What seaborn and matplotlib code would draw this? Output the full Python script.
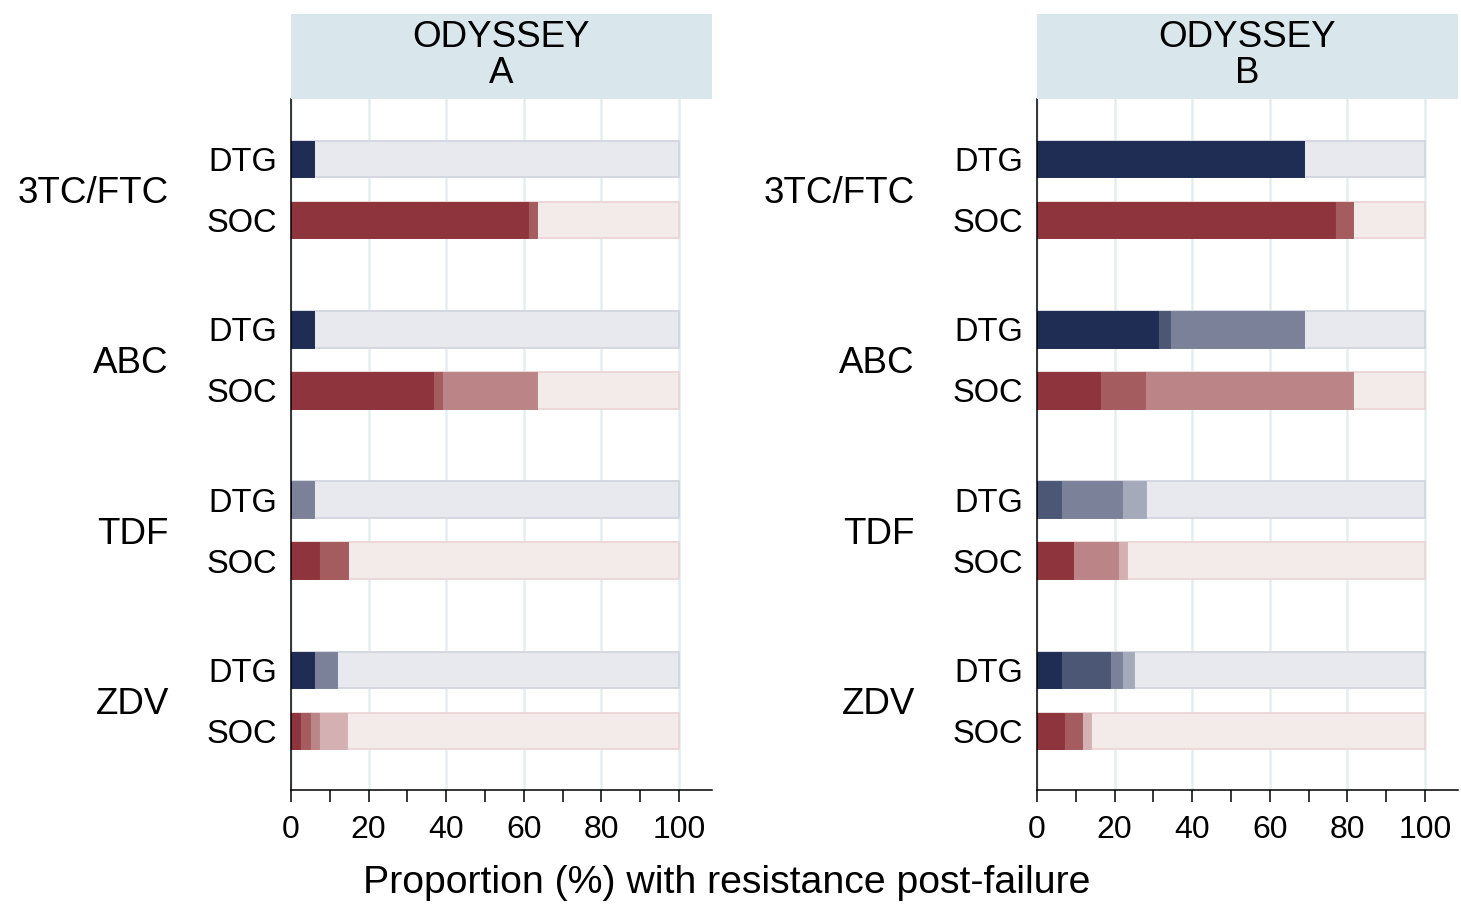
import numpy as np
import pandas as pd
import matplotlib
matplotlib.use("Agg")
import matplotlib.pyplot as plt
import matplotlib.colors as mcolors
from matplotlib import transforms
import seaborn as sns

# ---------------- data (percent of failures, by resistance level) ----------------
drugs = ["3TC/FTC", "ABC", "TDF", "ZDV"]
arms = ["DTG", "SOC"]
panels = ["A", "B"]
strip_titles = ["ODYSSEY\nA", "ODYSSEY\nB"]

a_dtg_high = [5.9, 5.9, 0.0, 5.9]
a_dtg_inter = [0.0, 0.0, 0.0, 0.0]
a_dtg_low = [0.0, 0.0, 5.9, 5.9]
a_dtg_plow = [0.0, 0.0, 0.0, 0.0]
a_soc_high = [61.0, 36.6, 7.3, 2.4]
a_soc_inter = [2.4, 2.4, 7.3, 2.4]
a_soc_low = [0.0, 24.4, 0.0, 2.4]
a_soc_plow = [0.0, 0.0, 0.0, 7.3]

b_dtg_high = [68.8, 31.3, 0.0, 6.3]
b_dtg_inter = [0.0, 3.1, 6.3, 12.5]
b_dtg_low = [0.0, 34.4, 15.6, 3.1]
b_dtg_plow = [0.0, 0.0, 6.3, 3.1]
b_soc_high = [76.7, 16.3, 9.3, 7.0]
b_soc_inter = [4.7, 11.6, 0.0, 4.7]
b_soc_low = [0.0, 53.5, 11.6, 0.0]
b_soc_plow = [0.0, 0.0, 2.3, 2.3]

x_ticks = [0, 20, 40, 60, 80, 100]
x_title = "Proportion (%) with resistance post-failure"

# ---------------- styling ----------------
navy = ["#1f2d54", "#4b5775", "#7a8199", "#a5aabb", "#e8e9ee"]
red = ["#8e343c", "#a45c5f", "#bb8486", "#d4b0b2", "#f3eaea"]
navy_edge = "#d3d6df"
red_edge = "#ebd5d7"
strip_col = "#d9e6ec"
grid_col = "#e4eef1"

sns.set_theme(style="white")
plt.rcParams["font.family"] = ["Liberation Sans", "DejaVu Sans"]
plt.rcParams["text.color"] = "black"
plt.rcParams["axes.labelcolor"] = "black"
plt.rcParams["xtick.color"] = "black"
plt.rcParams["ytick.color"] = "black"

series = {
    ("A", "DTG"): [a_dtg_high, a_dtg_inter, a_dtg_low, a_dtg_plow],
    ("A", "SOC"): [a_soc_high, a_soc_inter, a_soc_low, a_soc_plow],
    ("B", "DTG"): [b_dtg_high, b_dtg_inter, b_dtg_low, b_dtg_plow],
    ("B", "SOC"): [b_soc_high, b_soc_inter, b_soc_low, b_soc_plow],
}

group_gap = 170.3
row_gap = 61.0
rows = []
for (p, arm), lv in series.items():
    for i, d in enumerate(drugs):
        vals = [lv[k][i] for k in range(4)]
        cum = np.cumsum(vals)
        rows.append(dict(panel=p, arm=arm, drug=d,
                         pos=i * group_gap + arms.index(arm) * row_gap,
                         c1=cum[0], c2=cum[1], c3=cum[2], c4=cum[3], total=100.0))
df = pd.DataFrame(rows)

W, H = 1461, 908
fig = plt.figure(figsize=(W / 100, H / 100), dpi=100)

ax_left_px = [291, 1037]
ax_w_px = 421
ax_top_px, ax_bot_px = 99, 790
strip_top_px = 14

layers = [("total", 4), ("c4", 3), ("c3", 2), ("c2", 1), ("c1", 0)]
bar_frac = 36.5 / row_gap

for pi, p in enumerate(panels):
    ax = fig.add_axes([ax_left_px[pi] / W, (H - ax_bot_px) / H,
                       ax_w_px / W, (ax_bot_px - ax_top_px) / H])
    sub = df[df.panel == p]
    for col, k in layers:
        n0 = len(ax.patches)
        sns.barplot(data=sub, x=col, y="pos", hue="arm", hue_order=arms,
                    palette={"DTG": navy[k], "SOC": red[k]},
                    orient="y", native_scale=True, dodge=False,
                    width=bar_frac, legend=False, saturation=1,
                    errorbar=None, linewidth=0, ax=ax)
        for patch in ax.patches[n0:]:
            fc = mcolors.to_hex(patch.get_facecolor())
            if k == 4:
                patch.set_edgecolor(navy_edge if fc == navy[4] else red_edge)
                patch.set_linewidth(1.3)
            else:
                patch.set_edgecolor(fc)
                patch.set_linewidth(0.6)
                patch.set_zorder(2.2)
    ax.set_xlim(0, 108.5)
    ax.set_ylim(631, -60)

    # y labels
    yt = [i * group_gap + j * row_gap for i in range(len(drugs)) for j in range(2)]
    ax.set_yticks(yt)
    ax.set_yticklabels(arms * len(drugs))
    ax.tick_params(axis="y", length=0, pad=10, labelsize=23.5, labelcolor="black")

    # x axis
    ax.set_xticks(x_ticks)
    ax.set_xticklabels([str(t) for t in x_ticks])
    ax.set_xticks(np.arange(10, 100, 20), minor=True)
    ax.tick_params(axis="x", which="both", bottom=True, direction="out",
                   length=8.6, width=1.1, color="black", labelsize=23,
                   labelcolor="black", pad=9.5)
    ax.set_xlabel("")
    ax.set_ylabel("")

    ax.grid(axis="x", color=grid_col, linewidth=1.8)
    ax.grid(axis="y", visible=False)
    ax.set_axisbelow(True)
    for s in ["top", "right"]:
        ax.spines[s].set_visible(False)
    for s in ["left", "bottom"]:
        ax.spines[s].set_color("black")
        ax.spines[s].set_linewidth(1.1)
        ax.spines[s].set_zorder(3)

    # group labels
    tr = transforms.blended_transform_factory(ax.transAxes, ax.transData)
    for i, d in enumerate(drugs):
        ax.text(-122 / ax_w_px, i * group_gap + row_gap / 2 + 4, d, transform=tr,
                ha="right", va="center", fontsize=26.5, color="black")

    # strip header
    sax = fig.add_axes([ax_left_px[pi] / W, (H - ax_top_px) / H,
                        ax_w_px / W, (ax_top_px - strip_top_px) / H])
    sax.set_facecolor(strip_col)
    sax.set_xticks([])
    sax.set_yticks([])
    for s in sax.spines.values():
        s.set_visible(False)
    sax.text(0.5, 0.51, strip_titles[pi], ha="center", va="center",
             fontsize=26.5, linespacing=1.02, transform=sax.transAxes,
             color="black")

fig.text(727 / W, (H - 883) / H, x_title, ha="center", va="center",
         fontsize=28.3, color="black")

fig.savefig("out.png", dpi=100)
